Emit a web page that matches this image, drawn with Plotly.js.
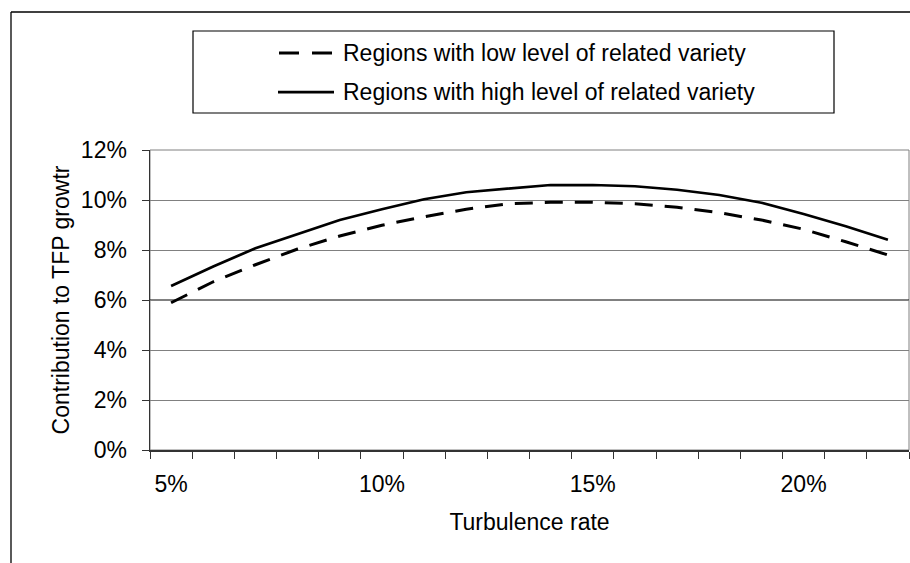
<!DOCTYPE html>
<html>
<head>
<meta charset="utf-8">
<script src="https://cdn.plot.ly/plotly-3.0.1.min.js"></script>
<style>
  html, body { margin: 0; padding: 0; background: #ffffff; }
  #chart { width: 910px; height: 563px; }
</style>
</head>
<body>
<div id="chart"></div>
<script>
// ---- Data ----
const turbulenceRate = [5, 6, 7, 8, 9, 10, 11, 12, 13, 14, 15, 16, 17, 18, 19, 20, 21, 22];
const lowRelatedVariety  = [5.89, 6.73, 7.41, 8.04, 8.56, 8.99, 9.33, 9.63, 9.85, 9.91, 9.91, 9.85, 9.71, 9.49, 9.20, 8.83, 8.33, 7.80];
const highRelatedVariety = [6.56, 7.34, 8.07, 8.64, 9.20, 9.63, 10.03, 10.31, 10.47, 10.60, 10.60, 10.55, 10.41, 10.20, 9.89, 9.44, 8.95, 8.41];
const seriesNames = ["Regions with low level of related variety", "Regions with high level of related variety"];
const xTickVals = [5, 10, 15, 20];
const xTickText = ["5%", "10%", "15%", "20%"];
const xTitle = "Turbulence rate";
const yTitle = "Contribution to TFP growtr";

// ---- Layout geometry ----
const W = 910, H = 563;
const M = { l: 150, r: 1, t: 150, b: 113 };
const PW = W - M.l - M.r, PH = H - M.t - M.b;
const px2x = p => (p - M.l) / PW;
const py2y = p => (M.t + PH - p) / PH;

const FONT = "Liberation Sans, Arial, Helvetica, sans-serif";
const FS = 23;

// category boundaries for ticks
const boundaries = turbulenceRate.map(v => v - 0.5).concat([turbulenceRate[turbulenceRate.length - 1] + 0.5]);

const traces = [
  {
    x: turbulenceRate, y: lowRelatedVariety, name: seriesNames[0],
    type: "scatter", mode: "lines",
    line: { color: "#000000", width: 3, dash: "18px,12px" },
    showlegend: false, hoverinfo: "skip"
  },
  {
    x: turbulenceRate, y: highRelatedVariety, name: seriesNames[1],
    type: "scatter", mode: "lines",
    line: { color: "#000000", width: 2.75 },
    showlegend: false, hoverinfo: "skip"
  }
];

const shapes = [
  // plot area border (gray)
  { type: "rect", xref: "paper", yref: "paper", x0: 0, x1: 1, y0: 0, y1: 1,
    line: { color: "#808080", width: 1 }, layer: "below" },
  // darker 6% gridline as in the reference
  { type: "line", xref: "paper", yref: "y", x0: 0, x1: 1, y0: 6, y1: 6,
    line: { color: "#000000", width: 1 }, layer: "below" },
  // outer chart frame (top and left visible)
  { type: "line", xref: "paper", yref: "paper", x0: px2x(11), x1: px2x(912), y0: py2y(12), y1: py2y(12),
    line: { color: "#000000", width: 1.3 } },
  { type: "line", xref: "paper", yref: "paper", x0: px2x(11), x1: px2x(11), y0: py2y(12), y1: py2y(565),
    line: { color: "#000000", width: 1.3 } },
  // legend box
  { type: "rect", xref: "paper", yref: "paper", x0: px2x(193), x1: px2x(834), y0: py2y(113), y1: py2y(31),
    line: { color: "#000000", width: 1.2 }, fillcolor: "#ffffff" },
  // legend samples
  { type: "line", xref: "paper", yref: "paper", x0: px2x(279), x1: px2x(334), y0: py2y(53), y1: py2y(53),
    line: { color: "#000000", width: 3, dash: "20px,13px" } },
  { type: "line", xref: "paper", yref: "paper", x0: px2x(278), x1: px2x(334), y0: py2y(92), y1: py2y(92),
    line: { color: "#000000", width: 2.75 } }
];

const annotations = [
  { xref: "paper", yref: "paper", x: px2x(341), y: py2y(53), xanchor: "left", yanchor: "middle",
    text: seriesNames[0], showarrow: false, font: { family: FONT, size: FS, color: "#000000" } },
  { xref: "paper", yref: "paper", x: px2x(341), y: py2y(92), xanchor: "left", yanchor: "middle",
    text: seriesNames[1], showarrow: false, font: { family: FONT, size: FS, color: "#000000" } }
];

const layout = {
  width: W, height: H,
  margin: M,
  paper_bgcolor: "#ffffff", plot_bgcolor: "#ffffff",
  font: { family: FONT, size: FS, color: "#000000" },
  showlegend: false,
  xaxis: {
    range: [4.5, 22.5], fixedrange: true,
    tickmode: "array", tickvals: xTickVals, ticktext: xTickText,
    ticks: "outside", ticklen: 7, tickcolor: "rgba(0,0,0,0)",
    ticklabelstandoff: 6,
    minor: { tickmode: "array", tickvals: boundaries, ticks: "outside", ticklen: 7, tickwidth: 1, tickcolor: "#333333", showgrid: false },
    showgrid: false, zeroline: false,
    showline: true, linecolor: "#333333", linewidth: 1.5,
    title: { text: xTitle, font: { family: FONT, size: FS }, standoff: 18 },
    automargin: false
  },
  yaxis: {
    range: [0, 12], fixedrange: true,
    tickmode: "linear", tick0: 0, dtick: 2, ticksuffix: "%",
    ticks: "outside", ticklen: 7, tickcolor: "#333333",
    ticklabelstandoff: 10,
    showgrid: true, gridcolor: "#808080", gridwidth: 1,
    zeroline: false,
    showline: true, linecolor: "#333333", linewidth: 1.5,
    title: { text: yTitle, font: { family: FONT, size: FS }, standoff: 5 },
    automargin: false
  },
  shapes: shapes,
  annotations: annotations
};

Plotly.newPlot("chart", traces, layout, { staticPlot: true, displayModeBar: false });
</script>
</body>
</html>
